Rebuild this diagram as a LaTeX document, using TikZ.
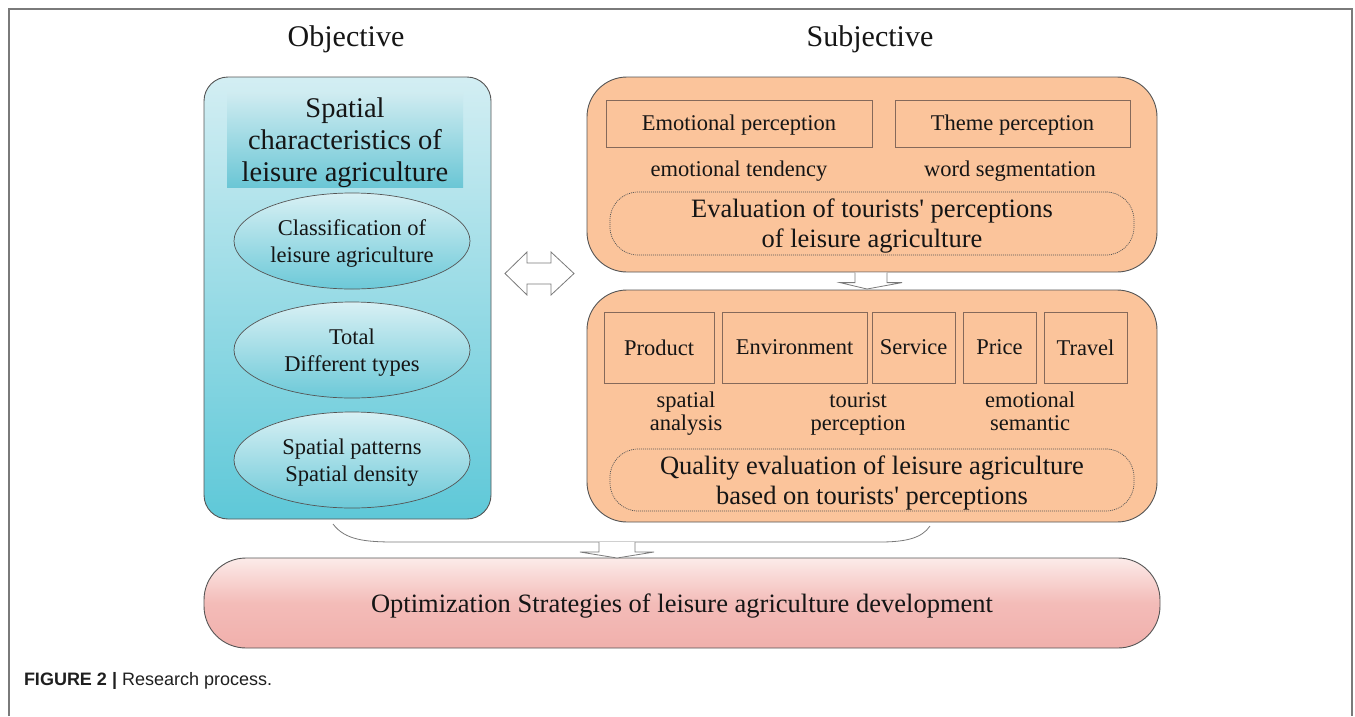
\documentclass[tikz,border=0pt]{standalone}
\usepackage{fontspec}
\setmainfont{Liberation Serif}
\newfontfamily\capsans{Liberation Sans}
\usetikzlibrary{calc,shapes.geometric}
\definecolor{peach}{HTML}{FBC49B}
\definecolor{edgegray}{HTML}{555555}
\definecolor{boxedge}{HTML}{85695A}
\definecolor{tealtop}{HTML}{D3EEF3}
\definecolor{tealbot}{HTML}{5EC8D8}
\definecolor{hdrtop}{HTML}{D0ECF1}
\definecolor{hdrbot}{HTML}{6AC6D5}
\definecolor{elltop}{HTML}{D8F0F4}
\definecolor{ellbot}{HTML}{6CC9D8}
\definecolor{pinktop}{HTML}{FCEBE9}
\definecolor{pinkbot}{HTML}{F1B0AC}
\definecolor{framegray}{HTML}{7A7A7A}
\definecolor{txt}{HTML}{151515}
\newcommand\hgt[1]{\rule{0pt}{#1}}
\newcommand\lstrut{\rule[-5pt]{0pt}{21pt}}
\begin{document}
\begin{tikzpicture}[x=1pt,y=-1pt,
  every node/.style={inner sep=0pt, outer sep=0pt, text=txt},
  titlefont/.style={font=\fontsize{30}{34}\selectfont},
  bigtext/.style={font=\fontsize{26.5}{30}\selectfont, align=center},
  smalltext/.style={font=\fontsize{22.5}{27.5}\selectfont, align=center},
  tighttext/.style={font=\fontsize{22.5}{23}\selectfont, align=center},
  bluepanel/.style={draw=edgegray, line width=0.9pt, rounded corners=24pt,
    top color=tealtop, bottom color=tealbot},
  peachpanel/.style={draw=edgegray, line width=0.9pt, rounded corners=40pt, fill=peach},
  itembox/.style={draw=boxedge, line width=0.7pt, fill=peach, smalltext},
  dotbox/.style={draw=edgegray, line width=0.7pt, dash pattern=on 1pt off 1pt,
    rounded corners=28pt, bigtext},
  ellipsebox/.style={ellipse, draw=edgegray, line width=0.7pt, minimum width=236pt,
    minimum height=96pt, top color=elltop, bottom color=ellbot, smalltext},
  blockarrow/.style={draw=framegray, line width=0.8pt, fill=white, line join=miter},
  bracestyle/.style={draw=framegray, line width=0.8pt}
]
\useasboundingbox (0,0) rectangle (1355,716);
% outer frame
\draw[framegray, line width=1.4pt] (9,716) -- (9,9) -- (1352,9) -- (1352,716);

% titles
\node[titlefont] (tobj) at (346,39.5) {Objective};
\node[titlefont] (tsub) at (870,39.5) {Subjective};

% left panel
\node[bluepanel, minimum width=287pt, minimum height=442pt] (obj) at (347.5,298) {};
\node[top color=hdrtop, bottom color=hdrbot,
      minimum width=236pt, minimum height=90pt,
      font=\fontsize{28.5}{32}\selectfont, align=center] (spat) at (345,140)
  {\hgt{25.5pt}Spatial\\characteristics of\\leisure agriculture};
\node[ellipsebox] (e1) at (352,241) {\hgt{21pt}Classification of\\leisure agriculture};
\node[ellipsebox] (e2) at (352,350) {\hgt{21pt}Total\\Different types};
\node[ellipsebox] (e3) at (352,460) {\hgt{21pt}Spatial patterns\\Spatial density};

% right upper panel
\node[peachpanel, minimum width=570pt, minimum height=195pt] (up) at (872,174.5) {};
\node[itembox, minimum width=266pt, minimum height=47pt, text depth=2pt] (emo) at (739,123.5) {Emotional perception};
\node[itembox, minimum width=235pt, minimum height=47pt, text depth=2pt] (theme) at (1012.5,123.5) {Theme perception};
\node[smalltext] (emot) at (739,171.5) {emotional tendency};
\node[smalltext] (word) at (1010,171.5) {word segmentation};
\node[dotbox, minimum width=524pt, minimum height=63pt] (evalp) at (872,223.5)
  {\hgt{24pt}Evaluation of tourists\textquotesingle{} perceptions\\of leisure agriculture};

% right lower panel
\node[peachpanel, minimum width=570pt, minimum height=232pt] (low) at (872,406) {};
\node[itembox, minimum width=110pt, minimum height=71pt] (prod) at (659,347.5) {Product};
\node[itembox, minimum width=145pt, minimum height=71pt] (env) at (794.5,347.5) {Environment};
\node[itembox, minimum width=83pt, minimum height=71pt] (serv) at (913.5,347.5) {Service};
\node[itembox, minimum width=73pt, minimum height=71pt] (price) at (999.5,347.5) {Price};
\node[itembox, minimum width=83pt, minimum height=71pt] (trav) at (1085.5,347.5) {Travel};
\node[tighttext] (sa) at (686,413) {\lstrut spatial\\\lstrut analysis};
\node[tighttext] (tp) at (858,413) {\lstrut tourist\\\lstrut perception};
\node[tighttext] (es) at (1030,413) {\lstrut emotional\\\lstrut semantic};
\node[dotbox, minimum width=524pt, minimum height=62pt] (qual) at (872,480)
  {\hgt{24pt}Quality evaluation of leisure agriculture\\based on tourists\textquotesingle{} perceptions};

% bottom bar
\node[draw=edgegray, line width=0.9pt, rounded corners=42pt,
      top color=pinktop, bottom color=pinkbot, middle color=pinkbot!80!pinktop,
      minimum width=956pt, minimum height=90pt, bigtext] (bar) at (682,603)
  {\hgt{24pt}Optimization Strategies of leisure agriculture development};

% double arrow between objective and subjective
\coordinate (dc) at (539.5,273.5);
\draw[blockarrow] ($(dc)+(-34.5,0)$) -- ($(dc)+(-12.5,-21.5)$) -- ($(dc)+(-12.5,-10.5)$)
  -- ($(dc)+(11.5,-10.5)$) -- ($(dc)+(11.5,-21.5)$) -- ($(dc)+(34.5,0)$)
  -- ($(dc)+(11.5,21.5)$) -- ($(dc)+(11.5,10.5)$) -- ($(dc)+(-12.5,10.5)$)
  -- ($(dc)+(-12.5,21.5)$) -- cycle;

% down arrow between the two subjective panels
\path[fill=white] ($(up.south)+(-17,0.6)$) -- ++(0,10) -- ++(-15,0) -- ($(low.north)+(-5,-1)$)
  -- ($(up.south)+(30,10.6)$) -- ++(-15,0) -- ++(0,-10) -- cycle;
\draw[blockarrow, fill=none] ($(up.south)+(-17,0.6)$) -- ++(0,10) -- ++(-15,0) -- ($(low.north)+(-5,-1)$)
  -- ($(up.south)+(30,10.6)$) -- ++(-15,0) -- ++(0,-10);

% brace gathering both sides
\coordinate (bl) at ($(obj.south)+(-14.5,5)$);
\coordinate (brr) at ($(low.south)+(58,4)$);
\draw[bracestyle] (bl) .. controls ($(bl)+(12,16)$) and ($(bl)+(32,18)$) .. ($(bl)+(62,18)$)
  -- ($(brr)+(-50,16)$) .. controls ($(brr)+(-24,16)$) and ($(brr)+(-8,12)$) .. (brr);

% down arrow into the bottom bar
\coordinate (btip) at ($(bar.north)+(-65,0)$);
\path[fill=white] ($(btip)+(-18,-16)$) -- ++(0,10) -- ++(-19,0) -- (btip)
  -- ($(btip)+(37,-6)$) -- ++(-19,0) -- ++(0,-10) -- cycle;
\draw[blockarrow, fill=none] ($(btip)+(-18,-16)$) -- ++(0,10) -- ++(-19,0) -- (btip)
  -- ($(btip)+(37,-6)$) -- ++(-19,0) -- ++(0,-10);

% caption
\node[anchor=west, font=\capsans\fontsize{18}{21}\selectfont, text=black!88] (cap) at (24,681)
  {\textbf{FIGURE 2 |} Research process.};
\end{tikzpicture}
\end{document}
